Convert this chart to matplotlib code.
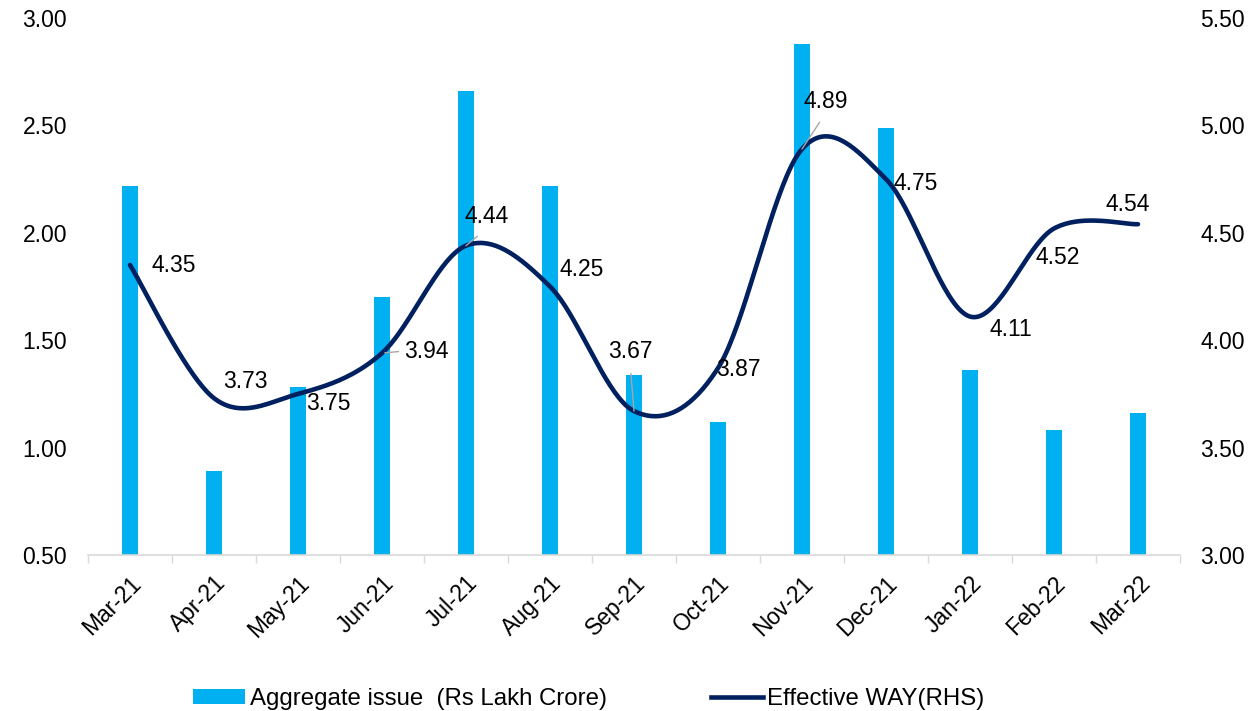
import numpy as np
import matplotlib
matplotlib.use("Agg")
import matplotlib.pyplot as plt
import matplotlib.transforms as mtransforms
from matplotlib.patches import Patch
from matplotlib.lines import Line2D

months = ["Mar-21", "Apr-21", "May-21", "Jun-21", "Jul-21", "Aug-21", "Sep-21",
          "Oct-21", "Nov-21", "Dec-21", "Jan-22", "Feb-22", "Mar-22"]
aggregate_issue = [2.22, 0.89, 1.28, 1.70, 2.66, 2.22, 1.34, 1.12, 2.88, 2.49, 1.36, 1.08, 1.16]
effective_way = [4.35, 3.73, 3.75, 3.94, 4.44, 4.25, 3.67, 3.87, 4.89, 4.75, 4.11, 4.52, 4.54]
left_ticks = [0.5, 1.0, 1.5, 2.0, 2.5, 3.0]
right_ticks = [3.0, 3.5, 4.0, 4.5, 5.0, 5.5]

# label offsets in pixels (style/position, not data)
label_offsets = [(22, 0), (9, 17), (8, -10), (22, 2), (21, 29), (9, 17), (-4, 60),
                 (-2, -1), (24, 48), (7, -4), (19, -13), (-18, -29), (-32, 20)]
label_leaders = [False, False, False, True, True, False, True, False, True,
                 False, False, False, False]

plt.rcParams['font.family'] = ['Liberation Sans', 'DejaVu Sans']
FS = 16.5

fig = plt.figure(figsize=(12.51, 7.11), dpi=100)
ax = fig.add_axes([88 / 1251, 1 - 555 / 711, (1180 - 88) / 1251, (555 - 18) / 711])
ax2 = ax.twinx()

x = np.arange(len(months))
bar_color = "#00B0F0"
line_color = "#002060"

ax.bar(x, aggregate_issue, width=0.19, color=bar_color, zorder=2)
ax.set_ylim(0.5, 3.0)
ax.set_xlim(-0.5, len(months) - 0.5)
ax.set_yticks(left_ticks)
ax.set_yticklabels([f"{v:.2f}" for v in left_ticks], fontsize=FS)
ax.tick_params(axis='y', length=0, pad=15)
ax.set_xticks(x)
ax.set_xticklabels(months, rotation=45, ha='right', rotation_mode='anchor', fontsize=FS)
shift = mtransforms.ScaledTranslation(-7 / 100, 0, fig.dpi_scale_trans)
for lab in ax.get_xticklabels():
    lab.set_transform(lab.get_transform() + shift)
ax.set_xticks(np.arange(-0.5, len(months), 1.0), minor=True)
ax.tick_params(axis='x', which='major', length=0, pad=12)
ax.tick_params(axis='x', which='minor', length=6, color='#D9D9D9', width=1)
for s in ['top', 'right', 'left']:
    ax.spines[s].set_visible(False)
ax.spines['bottom'].set_color('#D9D9D9')
ax.spines['bottom'].set_linewidth(1.2)

# smoothed line (Bezier through data points, Excel-like smoothing)
P = np.column_stack([x.astype(float), np.array(effective_way, dtype=float)])
n = len(P)
curve = []
t = np.linspace(0, 1, 40)
for i in range(n - 1):
    p0 = P[i]
    p3 = P[i + 1]
    pm = P[i - 1] if i > 0 else P[i]
    pp = P[i + 2] if i + 2 < n else P[i + 1]
    c1 = p0 + (p3 - pm) / 6.0
    c2 = p3 - (pp - p0) / 6.0
    seg = ((1 - t) ** 3)[:, None] * p0 + (3 * (1 - t) ** 2 * t)[:, None] * c1 + \
          (3 * (1 - t) * t ** 2)[:, None] * c2 + (t ** 3)[:, None] * p3
    curve.append(seg if i == 0 else seg[1:])
curve = np.vstack(curve)
ax2.plot(curve[:, 0], curve[:, 1], color=line_color, lw=3.3, solid_capstyle='round', zorder=3)
ax2.set_ylim(3.0, 5.5)
ax2.set_yticks(right_ticks)
ax2.set_yticklabels([f"{v:.2f}" for v in right_ticks], fontsize=FS)
ax2.tick_params(axis='y', length=0, pad=14.5)
for s in ['top', 'right', 'left', 'bottom']:
    ax2.spines[s].set_visible(False)

for i, v in enumerate(effective_way):
    dx, dy = label_offsets[i]
    kw = {}
    if label_leaders[i]:
        if i == 3:
            kw['arrowprops'] = dict(arrowstyle='-', color='#A6A6A6', lw=1, shrinkA=2, shrinkB=2,
                                    relpos=(0, 0.5))
        else:
            kw['arrowprops'] = dict(arrowstyle='-', color='#A6A6A6', lw=1, shrinkA=6, shrinkB=0,
                                    relpos=(0.5, 0))
    ax2.annotate(f"{v:.2f}", xy=(x[i], v), xytext=(dx, dy), textcoords='offset pixels',
                 ha='left' if not label_leaders[i] or i == 3 else 'center',
                 va='center', fontsize=FS, color='black', zorder=4, **kw)

handles = [Patch(facecolor=bar_color, edgecolor='none'),
           Line2D([0], [0], color=line_color, lw=3.3)]
fig.legend(handles, ["Aggregate issue  (Rs Lakh Crore)", "Effective WAY(RHS)"],
           loc='center', bbox_to_anchor=(589 / 1251, 1 - 699 / 711), ncol=2, frameon=False,
           fontsize=17.3, handlelength=2.17, handleheight=0.6, handletextpad=0.2,
           columnspacing=4.3, borderpad=0, borderaxespad=0)

fig.savefig("out.png", dpi=100)
